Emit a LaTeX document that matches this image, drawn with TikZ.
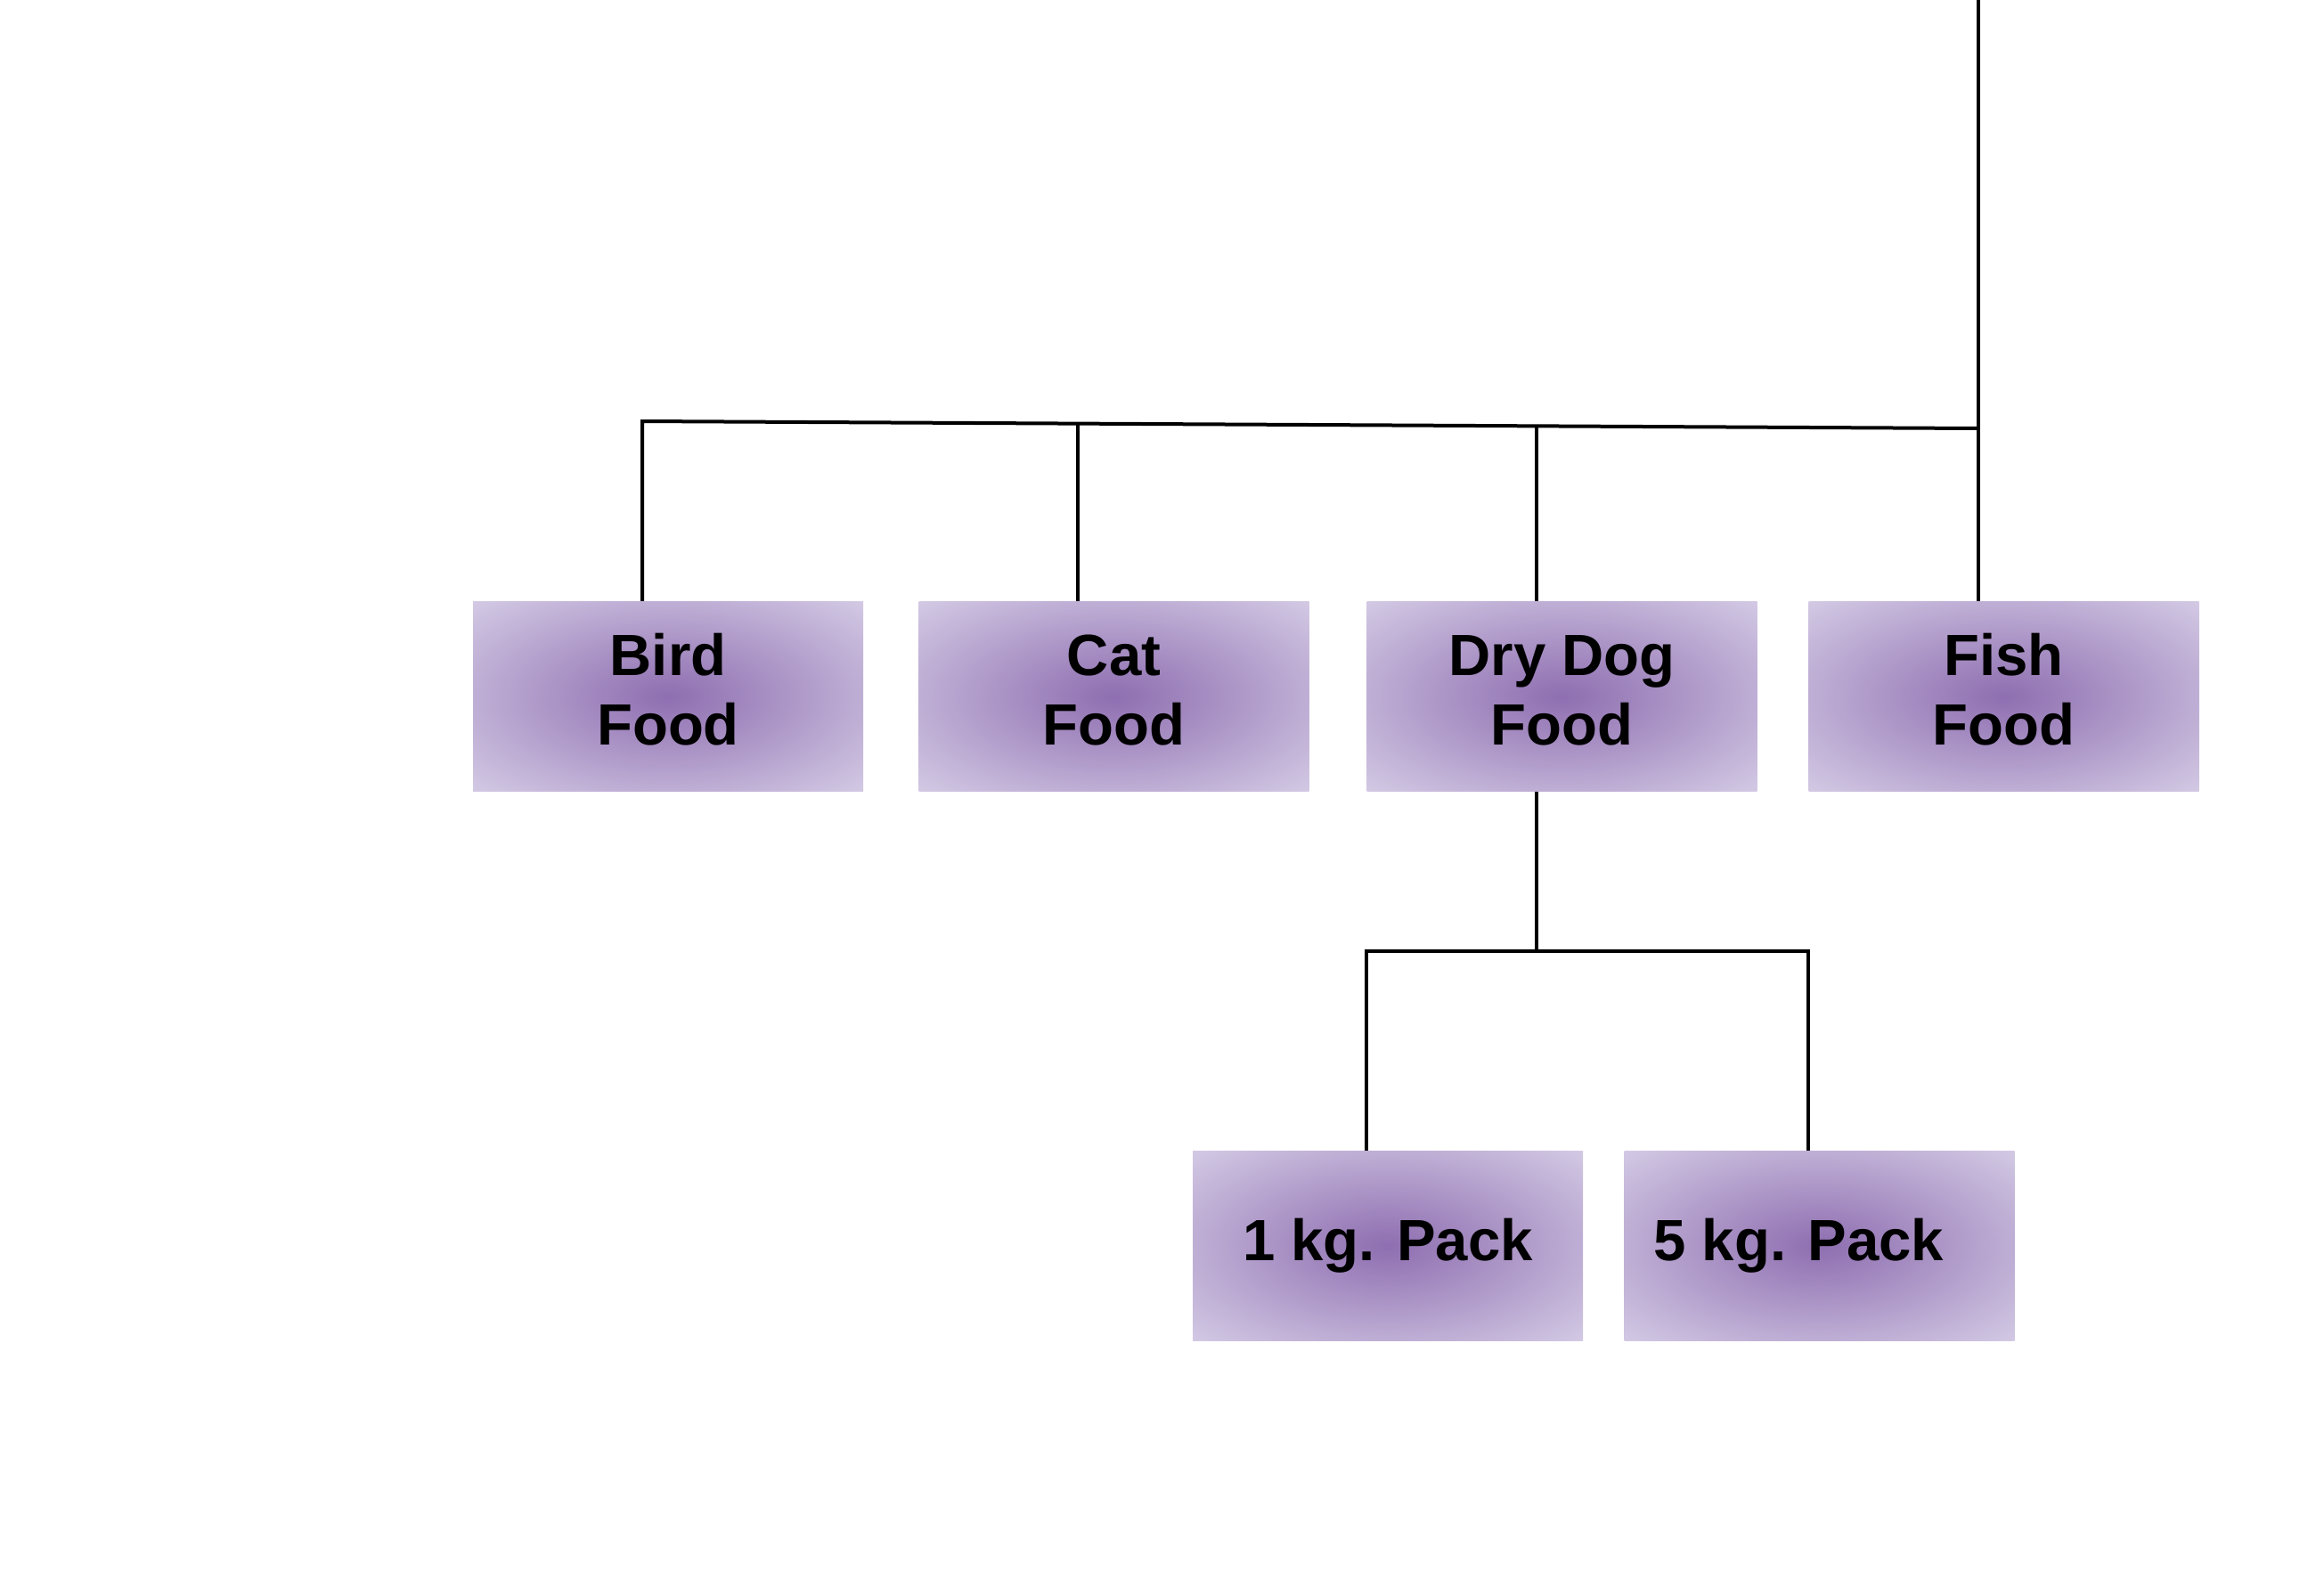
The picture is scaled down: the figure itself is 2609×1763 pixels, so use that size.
\documentclass[tikz,border=0pt]{standalone}
\usepackage{fontspec}
\setmainfont{Liberation Sans}
\definecolor{pin}{RGB}{142,110,176}
\definecolor{pout}{RGB}{216,208,232}
\pgfdeclareradialshading{boxshade}{\pgfpoint{0bp}{0bp}}{color(0bp)=(pin); color(38bp)=(pout); color(50bp)=(pout)}
\newcommand{\lifted}[1]{\raisebox{2pt}{\begin{tabular}{@{}c@{}}#1\end{tabular}}}
\begin{document}
\begin{tikzpicture}[x=0.3pt,y=-0.3pt,
  catbox/.style={shading=boxshade, draw=none, minimum width=131.4pt, minimum height=63.9pt,
    inner sep=0pt, align=center, font=\fontsize{19.6}{23.4}\selectfont\bfseries},
  link/.style={draw=black, line width=1.2pt}]
\useasboundingbox (0,0) rectangle (2609,1763);
\node[catbox] (bird) at (750,782) {\lifted{Bird\\Food}};
\node[catbox] (cat) at (1250.5,782) {\lifted{Cat\\Food}};
\node[catbox] (dog) at (1753.5,782) {\lifted{Dry Dog\\Food}};
\node[catbox] (fish) at (2249.5,782) {\lifted{Fish\\Food}};
\node[catbox] (one) at (1558,1399) {\raisebox{1pt}{1 kg. Pack}};
\node[catbox] (five) at (2042.5,1399) {\raisebox{1pt}{\hspace*{-14pt}5 kg. Pack}};
\coordinate (top) at (2221,0);
\coordinate (jb) at (721,473);
\coordinate (jc) at (1210,475.6);
\coordinate (jd) at (1725,478.4);
\coordinate (jf) at (2221,481);
\coordinate (kd) at (1725,1068);
\coordinate (k1) at (1534,1068);
\coordinate (k5) at (2030,1068);
\draw[link] (top) -- (fish.north -| top);
\draw[link] (bird.north -| jb) -- (jb) -- (jf);
\draw[link] (jc) -- (cat.north -| jc);
\draw[link] (jd) -- (dog.north -| jd);
\draw[link] (dog.south -| kd) -- (kd);
\draw[link] (one.north -| k1) -- (k1) -- (k5) -- (five.north -| k5);
\end{tikzpicture}
\end{document}
